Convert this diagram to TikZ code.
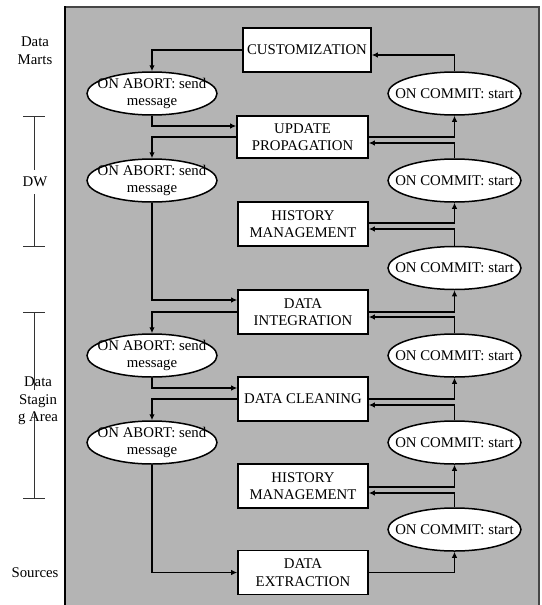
\documentclass[tikz,border=0pt]{standalone}
\usepackage{fontspec}
\setmainfont{Liberation Serif}
\usetikzlibrary{shapes.geometric,arrows.meta}
\definecolor{panel}{RGB}{180,180,180}
\definecolor{edge}{RGB}{70,70,70}
\begin{document}
\begin{tikzpicture}[x=1pt,y=-1pt,
  every node/.style={font=\fontsize{14.8}{17.5}\selectfont},
  box/.style={draw, fill=white, line width=1.6pt, minimum width=130pt, minimum height=44pt, inner sep=0pt, align=center},
  abortell/.style={ellipse, draw, fill=white, line width=1.5pt, minimum width=130pt, minimum height=43pt, inner sep=0pt},
  commitell/.style={ellipse, draw, fill=white, line width=1.5pt, minimum width=133pt, minimum height=43pt, inner sep=0pt},
  etext/.style={inner sep=0pt, align=center},
  conn/.style={line width=1.5pt, -{Latex[length=6pt,width=5.5pt]}},
  bracket/.style={line width=0.8pt, draw=black!80},
  lbl/.style={align=center, inner sep=0pt}
]
\useasboundingbox (0,0) rectangle (541,605);
% panel
\fill[panel] (65,7) rectangle (539,606);
\draw[edge, line width=1.2pt] (539,606) -- (539,7) -- (65,7);
\draw[black, line width=1.8pt] (65,606) -- (65,6.4);

% left labels
\node[lbl] (dm) at (35,50.5) {Data\\Marts};
\node[lbl] (dw) at (35,182) {DW};
\node[lbl] (dsa) at (38,401) {Data\\Stagin\\g Area};
\node[lbl] (src) at (35,573) {Sources};
\draw[bracket] (23,116) -- (45,116);
\draw[bracket] (34,116) -- (34,170);
\draw[bracket] (34,194) -- (34,246);
\draw[bracket] (23,246) -- (45,246);
\draw[bracket] (23,312) -- (45,312);
\draw[bracket] (34,312) -- (34,390);
\draw[bracket] (34,413) -- (34,498);
\draw[bracket] (23,498) -- (45,498);

% boxes
\node[box, minimum width=128pt] (cust) at (307,50) {CUSTOMIZATION};
\node[box, minimum width=131pt, minimum height=42pt] (upd) at (302.5,137) {UPDATE\\PROPAGATION};
\node[box] (hist1) at (303,224) {HISTORY\\MANAGEMENT};
\node[box] (integ) at (303,312) {DATA\\INTEGRATION};
\node[box] (clean) at (303,399) {DATA CLEANING};
\node[box] (hist2) at (303,486) {HISTORY\\MANAGEMENT};
\node[box] (extr) at (303,572.5) {DATA\\EXTRACTION};

% abort ellipses
\node[abortell] (a1) at (152,93.5) {};
\node[abortell] (a2) at (152,180.5) {};
\node[abortell] (a3) at (152,355.5) {};
\node[abortell] (a4) at (152,442.5) {};
\node[etext] (ta1) at (a1) {ON ABORT: send\\message};
\node[etext] (ta2) at (a2) {ON ABORT: send\\message};
\node[etext] (ta3) at (a3) {ON ABORT: send\\message};
\node[etext] (ta4) at (a4) {ON ABORT: send\\message};

% commit ellipses
\node[commitell] (c1) at (454.5,93.5) {};
\node[commitell] (c2) at (454.5,180.5) {};
\node[commitell] (c3) at (454.5,268) {};
\node[commitell] (c4) at (454.5,355.5) {};
\node[commitell] (c5) at (454.5,442.5) {};
\node[commitell] (c6) at (454.5,529.5) {};
\node[etext] (tc1) at (c1) {ON COMMIT: start};
\node[etext] (tc2) at (c2) {ON COMMIT: start};
\node[etext] (tc3) at (c3) {ON COMMIT: start};
\node[etext] (tc4) at (c4) {ON COMMIT: start};
\node[etext] (tc5) at (c5) {ON COMMIT: start};
\node[etext] (tc6) at (c6) {ON COMMIT: start};

% left connectors (abort chain)
\draw[conn] (cust.west) -| (a1.north);
\draw[conn] (a1.south) |- ([yshift=11pt]upd.west);
\draw[conn] (upd.west) -| (a2.north);
\draw[conn] (a2.south) |- ([yshift=12pt]integ.west);
\draw[conn] (integ.west) -| (a3.north);
\draw[conn] (a3.south) |- ([yshift=11pt]clean.west);
\draw[conn] (clean.west) -| (a4.north);
\draw[conn] (a4.south) |- (extr.west);

% right connectors (commit chain)
\draw[conn] (extr.east) -| (c6.south);
\draw[conn] (c6.north) |- ([yshift=-7pt]hist2.east);
\draw[conn] ([yshift=-1pt]hist2.east) -| (c5.south);
\draw[conn] (c5.north) |- ([yshift=-6pt]clean.east);
\draw[conn] (clean.east) -| (c4.south);
\draw[conn] (c4.north) |- ([yshift=-5pt]integ.east);
\draw[conn] (integ.east) -| (c3.south);
\draw[conn] (c3.north) |- ([yshift=-5pt]hist1.east);
\draw[conn] ([yshift=1pt]hist1.east) -| (c2.south);
\draw[conn] (c2.north) |- ([yshift=-6pt]upd.east);
\draw[conn] (upd.east) -| (c1.south);
\draw[conn] (c1.north) |- ([yshift=-5pt]cust.east);
\end{tikzpicture}
\end{document}
